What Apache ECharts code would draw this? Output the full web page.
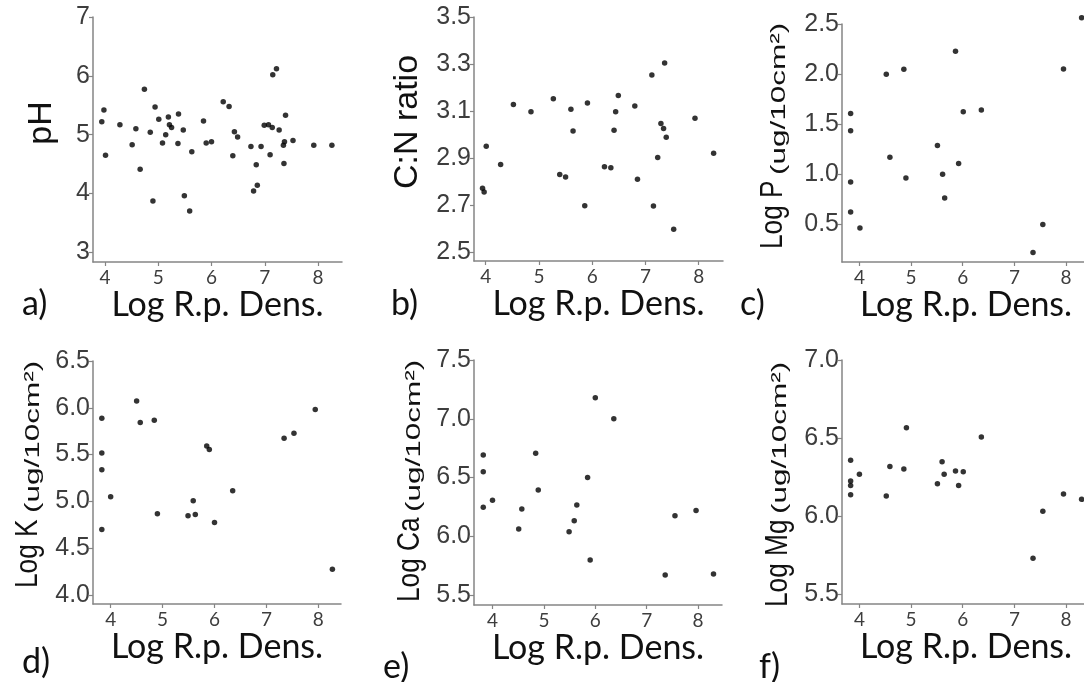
<!DOCTYPE html>
<html>
<head>
<meta charset="utf-8">
<script src="https://cdn.jsdelivr.net/npm/echarts@6/dist/echarts.min.js"></script>
<style>html,body{margin:0;padding:0;background:#fff}#chart{width:1084px;height:682px}</style>
</head>
<body>
<div id="chart"></div>
<script>
// ---------- data ----------
const xTicks = [4, 5, 6, 7, 8];
const xTitle = 'Log R.p. Dens.';

const pHTicks = [3, 4, 5, 6, 7];
const pHX = [3.94,3.98,4.01,4.28,4.51,4.58,4.66,4.74,4.85,4.90,4.94,5.01,5.08,5.14,5.19,5.21,5.25,5.37,5.38,5.47,5.49,5.59,5.63,5.85,5.90,6.00,6.22,6.33,6.40,6.43,6.49,6.74,6.79,6.84,6.86,6.93,6.99,7.07,7.10,7.14,7.15,7.22,7.27,7.35,7.36,7.37,7.39,7.53,7.92,8.26];
const pHY = [5.22,5.42,4.65,5.17,4.83,5.10,4.41,5.77,5.04,3.87,5.47,5.26,4.86,5.00,5.30,5.17,5.12,4.85,5.35,5.08,3.96,3.70,4.71,5.23,4.86,4.88,5.56,5.48,4.64,5.05,4.96,4.80,4.04,4.49,4.14,4.80,5.16,5.17,4.66,5.12,6.02,6.12,5.08,4.82,4.51,4.88,5.33,4.90,4.82,4.82];

const cnTicks = [2.5, 2.7, 2.9, 3.1, 3.3, 3.5];
const cnX = [3.94,3.97,4.01,4.28,4.52,4.85,5.27,5.39,5.50,5.60,5.64,5.86,5.91,6.23,6.35,6.41,6.44,6.49,6.80,6.85,7.12,7.15,7.23,7.29,7.34,7.36,7.39,7.53,7.93,8.28];
const cnY = [2.772,2.756,2.951,2.873,3.128,3.097,3.153,2.831,2.820,3.108,3.016,2.698,3.134,2.864,2.859,3.019,3.097,3.166,3.122,2.810,3.254,2.697,2.903,3.047,3.026,3.305,2.989,2.598,3.070,2.921];

const pTicks = [0.5, 1.0, 1.5, 2.0, 2.5];
const pX = [3.83,3.83,3.83,3.83,4.01,4.52,4.59,4.86,4.90,5.51,5.61,5.65,5.86,5.92,6.01,6.36,7.36,7.55,7.95,8.30];
const pY = [1.607,1.433,0.923,0.623,0.463,1.997,1.170,2.047,0.963,1.287,1.000,0.763,2.227,1.107,1.623,1.640,0.217,0.497,2.050,2.563];

const kTicks = [4.0, 4.5, 5.0, 5.5, 6.0, 6.5];
const kX = [3.83,3.83,3.83,3.83,4.00,4.50,4.57,4.84,4.90,5.49,5.59,5.63,5.85,5.90,6.00,6.35,7.34,7.53,7.94,8.27];
const kY = [5.888,5.518,5.337,4.700,5.049,6.073,5.842,5.867,4.868,4.846,5.006,4.861,5.593,5.554,4.775,5.113,5.675,5.728,5.981,4.274];

const caTicks = [5.5, 6.0, 6.5, 7.0, 7.5];
const caX = [3.82,3.82,3.82,4.00,4.51,4.57,4.84,4.89,5.49,5.59,5.64,5.85,5.90,6.00,6.36,7.36,7.55,7.96,8.30];
const caY = [6.691,6.550,6.246,6.306,6.062,6.232,6.706,6.394,6.039,6.133,6.266,6.501,5.798,7.179,7.001,5.670,6.175,6.220,5.679];

const mgTicks = [5.5, 6.0, 6.5, 7.0];
const mgX = [3.83,3.83,3.83,3.83,4.00,4.52,4.59,4.86,4.91,5.51,5.60,5.64,5.86,5.92,6.01,6.36,7.36,7.55,7.95,8.30];
const mgY = [6.358,6.226,6.196,6.138,6.268,6.130,6.319,6.302,6.567,6.208,6.349,6.268,6.290,6.196,6.285,6.507,5.731,6.031,6.142,6.108];

// ---------- layout / style ----------
const panels = [
  {x: pHX, y: pHY, yt: pHTicks, dec: 0, g: {left: 93, top: 17, width: 249, height: 245}, xr: [3.775, 8.45], yr: [2.835, 7], gap: 23},
  {x: cnX, y: cnY, yt: cnTicks, dec: 1, g: {left: 474, top: 17, width: 249, height: 244}, xr: [3.78, 8.456], yr: [2.463, 3.5], gap: 23},
  {x: pX, y: pY, yt: pTicks, dec: 1, g: {left: 842, top: 24, width: 248, height: 238}, xr: [3.663, 8.463], yr: [0.123, 2.5], gap: 23},
  {x: kX, y: kY, yt: kTicks, dec: 1, g: {left: 93, top: 361, width: 248, height: 243}, xr: [3.66, 8.436], yr: [3.904, 6.5], gap: 26},
  {x: caX, y: caY, yt: caTicks, dec: 1, g: {left: 474, top: 360, width: 248, height: 245}, xr: [3.64, 8.465], yr: [5.415, 7.5], gap: 26},
  {x: mgX, y: mgY, yt: mgTicks, dec: 1, g: {left: 842, top: 360, width: 248, height: 244}, xr: [3.663, 8.463], yr: [5.438, 7.0], gap: 26}
];

const AX = '#858585';
const LBL = '#3d3d3d';
const SANS = 'Liberation Sans';
const CAL = 'Lato';

const grid = [], xAxis = [], yAxis = [], series = [];
panels.forEach((p, i) => {
  grid.push(Object.assign({outerBoundsMode: 'none', containLabel: false}, p.g));
  xAxis.push({
    type: 'value', gridIndex: i, min: p.xr[0], max: p.xr[1],
    name: xTitle, nameLocation: 'middle', nameGap: p.gap,
    nameTextStyle: {fontFamily: CAL, fontSize: 34, color: '#111'},
    axisLine: {show: true, onZero: false, lineStyle: {color: AX, width: 1.5}},
    axisTick: {show: true, length: 4, customValues: xTicks, lineStyle: {color: AX, width: 1.2}},
    axisLabel: {customValues: xTicks, fontFamily: CAL, fontSize: 19, color: LBL, margin: 6},
    splitLine: {show: false}
  });
  yAxis.push({
    type: 'value', gridIndex: i, min: p.yr[0], max: p.yr[1],
    axisLine: {show: true, onZero: false, lineStyle: {color: AX, width: 1.5}},
    axisTick: {show: true, length: 4, customValues: p.yt, lineStyle: {color: AX, width: 1.2}},
    axisLabel: {customValues: p.yt, fontFamily: SANS, fontSize: 25, color: LBL, margin: 3,
      formatter: v => Number(v).toFixed(p.dec)},
    splitLine: {show: false}
  });
  series.push({
    type: 'scatter', xAxisIndex: i, yAxisIndex: i, clip: false,
    symbol: 'circle', symbolSize: 5.5,
    itemStyle: {color: '#000'},
    data: p.x.map((v, k) => [v, p.y[k]])
  });
});

const R = Math.PI / 2;
function vText(text, x, y, size, align, sx) {
  return {type: 'text', x: x, y: y, rotation: R, scaleX: sx || 1, scaleY: 1,
    style: {text: text, fontSize: size, fontFamily: SANS, fill: '#111', align: align, verticalAlign: 'middle'}};
}
function pLabel(text, x, y) {
  return {type: 'text', x: x, y: y,
    style: {text: text, fontSize: 34, fontFamily: CAL, fill: '#111', align: 'left', verticalAlign: 'middle'}};
}
const UNIT = '(ug/10cm\u00B2)';
const US = 1.5;
const MS = 0.82;
const graphic = [
  vText('pH', 42, 123, 34, 'center'),
  vText('C:N ratio', 408, 122, 34, 'center'),
  vText('Log P', 773, 249, 32, 'left', MS), vText(UNIT, 779, 175, 21, 'left', US),
  vText('Log K', 28, 588, 32, 'left', MS), vText(UNIT, 33, 513, 21, 'left', US),
  vText('Log Ca', 410, 602, 32, 'left', MS), vText(UNIT, 414, 512, 21, 'left', US),
  vText('Log Mg', 778, 607, 32, 'left', MS), vText(UNIT, 780, 514, 21, 'left', US),
  pLabel('a)', 22, 304), pLabel('b)', 391, 304), pLabel('c)', 740, 304),
  pLabel('d)', 22, 662), pLabel('e)', 383, 667), pLabel('f)', 759, 667)
];

const chart = echarts.init(document.getElementById('chart'), null, {renderer: 'canvas'});
chart.setOption({
  animation: false,
  backgroundColor: '#fff',
  grid: grid, xAxis: xAxis, yAxis: yAxis, series: series, graphic: graphic
});
</script>
</body>
</html>
